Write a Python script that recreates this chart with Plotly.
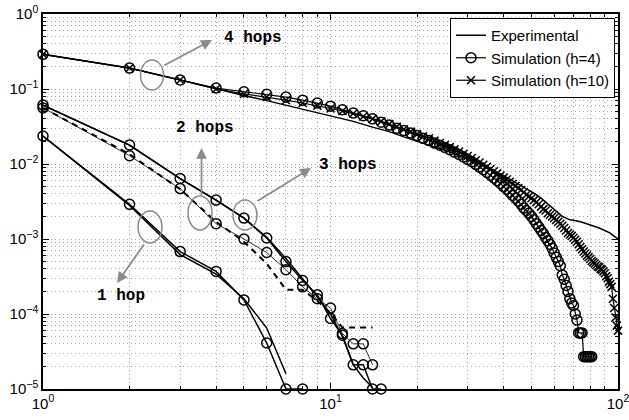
import plotly.graph_objects as go

# ---------------- data ----------------
# 4 hops
hop4_exp_x = [1, 2, 3, 4, 5, 6, 7, 8, 9, 10, 12, 14, 16, 18, 20, 22, 24, 26, 28, 30, 32, 34, 36, 38, 40,
              42, 44, 46, 48, 50, 52, 54, 56, 58, 60, 62, 64, 66, 68, 70, 72, 74, 76, 78, 80, 82, 84,
              86, 88, 90, 92, 94, 96, 98, 100]
hop4_exp_y = [0.29, 0.19, 0.132, 0.1, 0.082, 0.07, 0.061, 0.054, 0.048, 0.044, 0.037, 0.031, 0.027, 0.023,
              0.020, 0.018, 0.016, 0.0145, 0.013, 0.0117, 0.0105, 0.0095, 0.0086, 0.0078, 0.007, 0.0063,
              0.0057, 0.0052, 0.0047, 0.0043, 0.0039, 0.0035, 0.0031, 0.0028, 0.0025, 0.0022, 0.002,
              0.0019, 0.0018, 0.00178, 0.00172, 0.0017, 0.00165, 0.0016, 0.00155, 0.0015, 0.00145,
              0.0014, 0.00135, 0.0013, 0.00125, 0.0012, 0.00112, 0.00105, 0.001]

hop4_h4_x = list(range(1, 82))
hop4_h4_y = [0.29, 0.19, 0.132, 0.103, 0.092, 0.085, 0.078, 0.071, 0.065, 0.059,
             0.053, 0.048, 0.044, 0.040, 0.036, 0.033, 0.030, 0.028, 0.026, 0.024,
             0.022, 0.0205, 0.019, 0.0178, 0.0166, 0.0155, 0.0144, 0.0134, 0.0124, 0.0115,
             0.0107, 0.0099, 0.0091, 0.0084, 0.0077, 0.0071, 0.0065, 0.0060, 0.0055, 0.0050,
             0.0046, 0.0042, 0.0038, 0.0035, 0.0032, 0.0029, 0.0026, 0.0024, 0.0022, 0.0020,
             0.0018, 0.0016, 0.00145, 0.0013, 0.00118, 0.00105, 0.00095, 0.00085, 0.00075, 0.00065,
             0.00057, 0.0005, 0.00044, 0.00033, 0.00029, 0.00024, 0.0002, 0.00016, 0.00014, 0.00013,
             0.0001, 0.000083, 0.000056, 0.000056, 0.000056, 0.000027, 0.000027, 0.000027, 0.000027,
             0.000027, 0.000027]

hop4_h10_x = list(range(1, 101))
hop4_h10_y = [0.29, 0.19, 0.132, 0.1, 0.086, 0.078, 0.071, 0.065, 0.06, 0.055,
              0.051, 0.047, 0.043, 0.040, 0.037, 0.034, 0.0315, 0.029, 0.027, 0.025,
              0.0235, 0.022, 0.0205, 0.019, 0.018, 0.0168, 0.0157, 0.0147, 0.0137, 0.0128,
              0.012, 0.0112, 0.0105, 0.0098, 0.0092, 0.0086, 0.0080, 0.0075, 0.0070, 0.0066,
              0.0062, 0.0058, 0.0054, 0.0051, 0.0048, 0.0045, 0.0042, 0.0039, 0.0037, 0.0035,
              0.0033, 0.0031, 0.0029, 0.0027, 0.0025, 0.0024, 0.0022, 0.0021, 0.002, 0.0019,
              0.0018, 0.0017, 0.0016, 0.0015, 0.0014, 0.0013, 0.0012, 0.00115, 0.0011, 0.00104,
              0.00098, 0.00092, 0.00085, 0.00078, 0.00073, 0.00068, 0.00064, 0.0006, 0.00057, 0.00054,
              0.00051, 0.00049, 0.00047, 0.00045, 0.00043, 0.00042, 0.0004, 0.00039, 0.00037, 0.00035,
              0.00032, 0.0003, 0.00027, 0.00025, 0.00023, 0.00016, 0.00012, 0.00009, 0.00007, 0.00006]

# 3 hops
hop3_exp_x = list(range(1, 15))
hop3_exp_y = [0.061, 0.0179, 0.0064, 0.0033, 0.0019, 0.00105, 0.00055, 0.0003, 0.00017, 0.0001,
              0.00005, 0.000021, 0.000014, 0.0000105]
hop3_sim_x = list(range(1, 16))
hop3_sim_y = [0.061, 0.0179, 0.0064, 0.0033, 0.0019, 0.00103, 0.0005, 0.00028, 0.00018, 0.000087,
              0.000052, 0.000021, 0.000021, 0.00001, 0.00001]

# 2 hops
hop2_exp_x = list(range(1, 15))
hop2_exp_y = [0.056, 0.0135, 0.0046, 0.0017, 0.00092, 0.00047, 0.00021, 0.00021, 0.00015, 0.000103,
              0.000066, 0.000066, 0.000066, 0.000066]
hop2_sim_x = list(range(1, 15))
hop2_sim_y = [0.056, 0.0129, 0.0047, 0.0016, 0.001, 0.00066, 0.00039, 0.00023, 0.00016, 0.00012,
              0.000055, 0.00004, 0.00004, 0.000021]

# 1 hop
hop1_exp_x = list(range(1, 8))
hop1_exp_y = [0.0236, 0.0028, 0.00062, 0.00034, 0.00016, 0.000065, 0.000016]
hop1_sim_x = list(range(1, 9))
hop1_sim_y = [0.0236, 0.0029, 0.00068, 0.00037, 0.000154, 0.000041, 0.00001, 0.00001]

legend_names = ["Experimental", "Simulation (h=4)", "Simulation (h=10)"]
y_tickvals = [1, 0.1, 0.01, 0.001, 0.0001, 0.00001]
y_ticktext = ["10<sup>0</sup>", "10<sup>−1</sup>", "10<sup>−2</sup>", "10<sup>−3</sup>",
              "10<sup>−4</sup>", "10<sup>−5</sup>"]
x_tickvals = [1, 10, 100]
x_ticktext = ["10<sup>0</sup>", "10<sup>1</sup>", "10<sup>2</sup>"]

# ---------------- figure ----------------
W, H = 629, 420
L, R, T, B = 43, 11, 14, 31
PW, PH = W - L - R, H - T - B

def px(x):
    return (x - L) / PW

def py(y):
    return (H - B - y) / PH

fig = go.Figure()

circ = dict(symbol="circle-open", size=10, color="black", line=dict(width=1.5, color="black"))
xmk = dict(symbol="x-thin-open", size=8, color="black", line=dict(width=1.5, color="black"))

def exp_line(x, y, dash="solid", legend=False, width=1.5):
    fig.add_trace(go.Scatter(x=x, y=y, mode="lines", line=dict(color="black", width=width, dash=dash),
                             name=legend_names[0], showlegend=legend, cliponaxis=False, hoverinfo="skip"))

def sim_circ(x, y, legend=False, width=1.2):
    fig.add_trace(go.Scatter(x=x, y=y, mode="lines+markers", line=dict(color="black", width=width),
                             marker=circ, name=legend_names[1], showlegend=legend, cliponaxis=False,
                             hoverinfo="skip"))

exp_line(hop4_exp_x, hop4_exp_y, legend=True)
sim_circ(hop4_h4_x, hop4_h4_y, legend=True)
fig.add_trace(go.Scatter(x=hop4_h10_x, y=hop4_h10_y, mode="lines+markers",
                         line=dict(color="black", width=1.2), marker=xmk,
                         name=legend_names[2], showlegend=True, cliponaxis=False, hoverinfo="skip"))

exp_line(hop3_exp_x, hop3_exp_y)
sim_circ(hop3_sim_x, hop3_sim_y, width=1.5)
exp_line(hop2_exp_x, hop2_exp_y, dash="6px,5px", width=2)
sim_circ(hop2_sim_x, hop2_sim_y, width=0.8)
exp_line(hop1_exp_x, hop1_exp_y)
sim_circ(hop1_sim_x, hop1_sim_y, width=1.5)

gray = "#8a8a8a"
shapes = []
for (cx, cy, rx, ry) in [(152, 75, 11.5, 15), (200, 213, 12, 17), (245, 215, 12, 15), (150, 227, 12, 16)]:
    shapes.append(dict(type="circle", xref="paper", yref="paper",
                       x0=px(cx - rx), x1=px(cx + rx), y0=py(cy + ry), y1=py(cy - ry),
                       line=dict(color=gray, width=1.5)))

annotations = []
# arrows: (tip_x, tip_y, tail_x, tail_y) in pixels
for (tx, ty, sx, sy) in [(212, 40, 163, 66), (201.5, 148, 201.5, 197), (311, 168, 256, 202), (117, 283, 145, 243)]:
    annotations.append(dict(xref="paper", yref="paper", x=px(tx), y=py(ty), ax=sx - tx, ay=sy - ty,
                            axref="pixel", ayref="pixel", text="", showarrow=True,
                            arrowhead=2, arrowsize=1.2, arrowwidth=1.8, arrowcolor=gray))
lab_font = dict(family="Liberation Mono", size=16, color="black")
for (txt, cx, cy) in [("4 hops", 253, 38), ("2 hops", 205, 128), ("3 hops", 348, 165), ("1 hop", 121, 296)]:
    annotations.append(dict(xref="paper", yref="paper", x=px(cx), y=py(cy), text="<b>" + txt + "</b>",
                            showarrow=False, font=lab_font, xanchor="center", yanchor="middle"))

grid_col = "#a8a8a8"
grid_dash = "1px,3px"
axis_common = dict(showline=True, linecolor="black", linewidth=1.5, mirror="allticks",
                   ticks="inside", ticklen=6, tickwidth=1, tickcolor="black",
                   showgrid=True, gridcolor=grid_col, griddash=grid_dash, gridwidth=1,
                   zeroline=False, ticklabeloverflow="allow",
                   tickfont=dict(family="Liberation Sans", size=15, color="black"))

x_minor = [m * d for d in (1, 10) for m in range(2, 10)]
y_minor = [m * d for d in (1e-5, 1e-4, 1e-3, 1e-2, 1e-1) for m in range(2, 10)]

fig.update_xaxes(type="log", range=[0, 2], tickmode="array", tickvals=x_tickvals, ticktext=x_ticktext,
                 minor=dict(tickmode="array", tickvals=x_minor, ticks="inside", ticklen=3,
                            tickcolor="black", showgrid=True, gridcolor=grid_col, griddash=grid_dash),
                 **axis_common)
fig.update_yaxes(type="log", range=[-5, 0], tickmode="array", tickvals=y_tickvals, ticktext=y_ticktext,
                 minor=dict(tickmode="array", tickvals=y_minor, ticks="inside", ticklen=3,
                            tickcolor="black", showgrid=True, gridcolor=grid_col, griddash=grid_dash),
                 **axis_common)

fig.update_layout(
    width=W, height=H, margin=dict(l=L, r=R, t=T, b=B, autoexpand=False),
    paper_bgcolor="white", plot_bgcolor="white",
    shapes=shapes, annotations=annotations,
    legend=dict(x=px(615), y=py(18), xanchor="right", yanchor="top",
                bordercolor="black", borderwidth=1, bgcolor="white",
                font=dict(family="Liberation Sans", size=15, color="black"),
                tracegroupgap=0, itemwidth=30),
)

fig.write_html("out.html")
